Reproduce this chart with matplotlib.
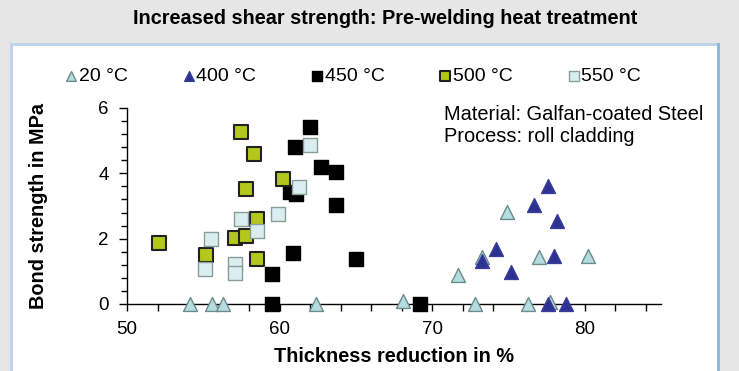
import matplotlib
matplotlib.use("Agg")
import matplotlib.pyplot as plt
from matplotlib.patches import Rectangle
from matplotlib.ticker import MultipleLocator

plt.rcParams["font.family"] = ["Liberation Sans", "DejaVu Sans"]

# Thickness reduction (%) / bond strength (MPa) per pre-welding temperature
x_20 = [54.1, 55.6, 56.3, 62.4, 68.1, 72.8, 76.3, 77.7, 71.7, 74.9, 73.3, 77.0, 80.2]
y_20 = [0.0, 0.0, 0.0, 0.0, 0.1, 0.0, 0.0, 0.05, 0.89, 2.81, 1.43, 1.45, 1.48]

x_400 = [77.6, 76.7, 78.2, 74.2, 73.3, 75.2, 78.0, 77.6, 78.8]
y_400 = [3.6, 3.03, 2.54, 1.69, 1.32, 0.98, 1.47, 0.0, 0.0]

x_450 = [62.0, 61.0, 62.7, 63.7, 63.7, 60.7, 61.1, 60.9, 59.5, 59.5, 65.0, 69.2]
y_450 = [5.41, 4.82, 4.18, 4.04, 3.02, 3.42, 3.38, 1.55, 0.92, 0.0, 1.37, 0.0]

x_500 = [52.1, 57.5, 58.3, 57.8, 58.5, 60.2, 57.1, 57.8, 55.2, 58.5]
y_500 = [1.86, 5.27, 4.59, 3.53, 2.61, 3.82, 2.03, 2.09, 1.49, 1.37]

x_550 = [55.5, 55.1, 57.5, 58.5, 57.1, 57.1, 59.9, 61.3, 62.0]
y_550 = [2.0, 1.08, 2.59, 2.23, 1.22, 0.96, 2.75, 3.59, 4.87]

labels = ["20 °C", "400 °C", "450 °C", "500 °C", "550 °C"]

fig = plt.figure(figsize=(7.39, 3.71), dpi=100)
fig.patch.set_facecolor("#e6e6e6")

# white panel with light blue frame
panel = Rectangle((11 / 739, -0.05), 707 / 739, 1 - 44 / 371 + 0.05,
                  transform=fig.transFigure, facecolor="white",
                  edgecolor="#bcd3ea", linewidth=2, zorder=-10)
fig.add_artist(panel)
fig.add_artist(plt.Line2D([718 / 739, 718 / 739], [0, 1 - 44 / 371],
                          transform=fig.transFigure, color="#8fb5dc", linewidth=2, zorder=-9))

fig.text(385 / 739, 1 - 19 / 371, "Increased shear strength: Pre-welding heat treatment",
         ha="center", va="center", fontsize=14.3, fontweight="bold")

ax = fig.add_axes([127 / 739, 1 - 304 / 371, 534 / 739, 196 / 371])
ax.set_facecolor("none")
ax.set_zorder(1)

ms = 100
ax.scatter(x_20, y_20, s=ms, marker="^", facecolor="#b4dde0", edgecolor="#6d8a8c",
           linewidth=1.0, label=labels[0], clip_on=False, zorder=3)
ax.scatter(x_400, y_400, s=ms, marker="^", facecolor="#2e3192", edgecolor="#3a3d9a",
           linewidth=1.0, label=labels[1], clip_on=False, zorder=3)
ax.scatter(x_450, y_450, s=ms, marker="s", facecolor="black", edgecolor="black",
           linewidth=1.0, label=labels[2], clip_on=False, zorder=3)
ax.scatter(x_500, y_500, s=ms, marker="s", facecolor="#b3c81a", edgecolor="#222222",
           linewidth=1.5, label=labels[3], clip_on=False, zorder=3)
ax.scatter(x_550, y_550, s=ms, marker="s", facecolor="#daeef0", edgecolor="#8a9c9c",
           linewidth=1.0, label=labels[4], clip_on=False, zorder=3)

ax.set_xlim(50, 85)
ax.set_ylim(0, 6)
ax.xaxis.set_major_locator(MultipleLocator(10))
ax.xaxis.set_minor_locator(MultipleLocator(2))
ax.yaxis.set_major_locator(MultipleLocator(2))
ax.yaxis.set_minor_locator(MultipleLocator(0.4))
ax.tick_params(which="major", direction="out", length=6, width=1, labelsize=13.5, pad=7)
ax.tick_params(which="minor", direction="out", length=4, width=1)
ax.tick_params(axis="x", which="both", length=5)

for side in ["top", "right"]:
    ax.spines[side].set_visible(False)
for side in ["left", "bottom"]:
    ax.spines[side].set_linewidth(1.0)

ax.set_xlabel("Thickness reduction in %", fontsize=14.3, fontweight="bold", labelpad=7)
ax.set_ylabel("Bond strength in MPa", fontsize=14.3, fontweight="bold", labelpad=36)

ax.text(0.594, 0.969, "Material: Galfan-coated Steel", transform=ax.transAxes,
        ha="left", va="center", fontsize=14.4)
ax.text(0.594, 0.857, "Process: roll cladding", transform=ax.transAxes,
        ha="left", va="center", fontsize=14.4)

ax.legend(loc="center left", bbox_to_anchor=(-0.114, 1.163), ncol=5, frameon=False,
          fontsize=14, markerscale=0.7, handlelength=0.55, handletextpad=0.12,
          columnspacing=2.85, borderpad=0, borderaxespad=0)

fig.savefig("out.png", dpi=100, facecolor=fig.get_facecolor())
